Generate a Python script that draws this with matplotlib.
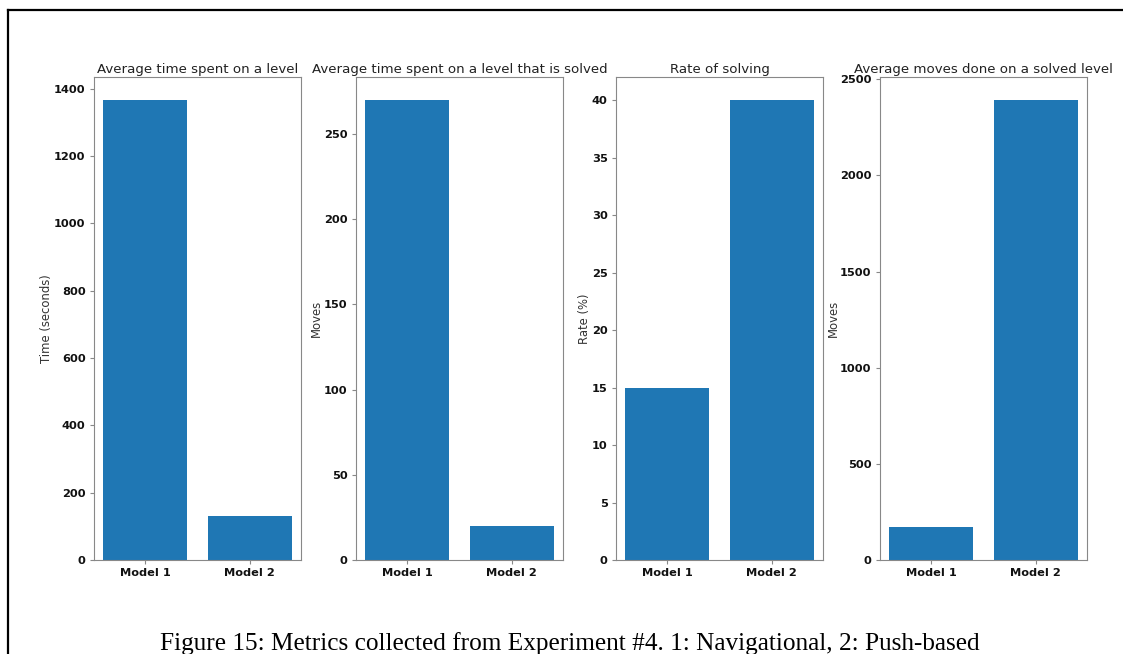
import matplotlib
matplotlib.use("Agg")
import matplotlib.pyplot as plt
from matplotlib.lines import Line2D

models = ["Model 1", "Model 2"]

avg_time = [1366, 131]
avg_time_solved = [270, 20]
solve_rate = [15, 40]
avg_moves_solved = [170, 2392]

titles = ["Average time spent on a level",
          "Average time spent on a level that is solved",
          "Rate of solving",
          "Average moves done on a solved level"]
ylabels = ["Time (seconds)", "Moves", "Rate (%)", "Moves"]
series = [avg_time, avg_time_solved, solve_rate, avg_moves_solved]

fig = plt.figure(figsize=(11.23, 6.54), dpi=100)

lefts = [0.0837, 0.3170, 0.5485, 0.7836]
for left, vals, title, ylab in zip(lefts, series, titles, ylabels):
    ax = fig.add_axes([left, 0.1437, 0.1843, 0.7385])
    ax.bar(models, vals, color="#1f77b4", width=0.8)
    ax.set_title(title, fontsize=9.6, color="#222222", pad=3)
    ax.set_ylabel(ylab, fontsize=8.4, color="#333333", labelpad=0.5)
    for s in ax.spines.values():
        s.set_edgecolor("#888888")
    ax.tick_params(colors="#888888", labelcolor="#111111", labelsize=8.2, length=3, pad=3)
    for lbl in ax.get_xticklabels() + ax.get_yticklabels():
        lbl.set_fontweight("bold")

# border of the page figure
fig.add_artist(Line2D([0.0071, 1.0], [0.9847, 0.9847], color="black", lw=1.6, transform=fig.transFigure))
fig.add_artist(Line2D([0.0071, 0.0071], [0.0, 0.9847], color="black", lw=1.6, transform=fig.transFigure))

fig.text(0.507, 0.006, "Figure 15: Metrics collected from Experiment #4. 1: Navigational, 2: Push-based",
         ha="center", va="baseline", fontsize=18.2, family="Liberation Serif")

fig.savefig("out.png", dpi=100)
